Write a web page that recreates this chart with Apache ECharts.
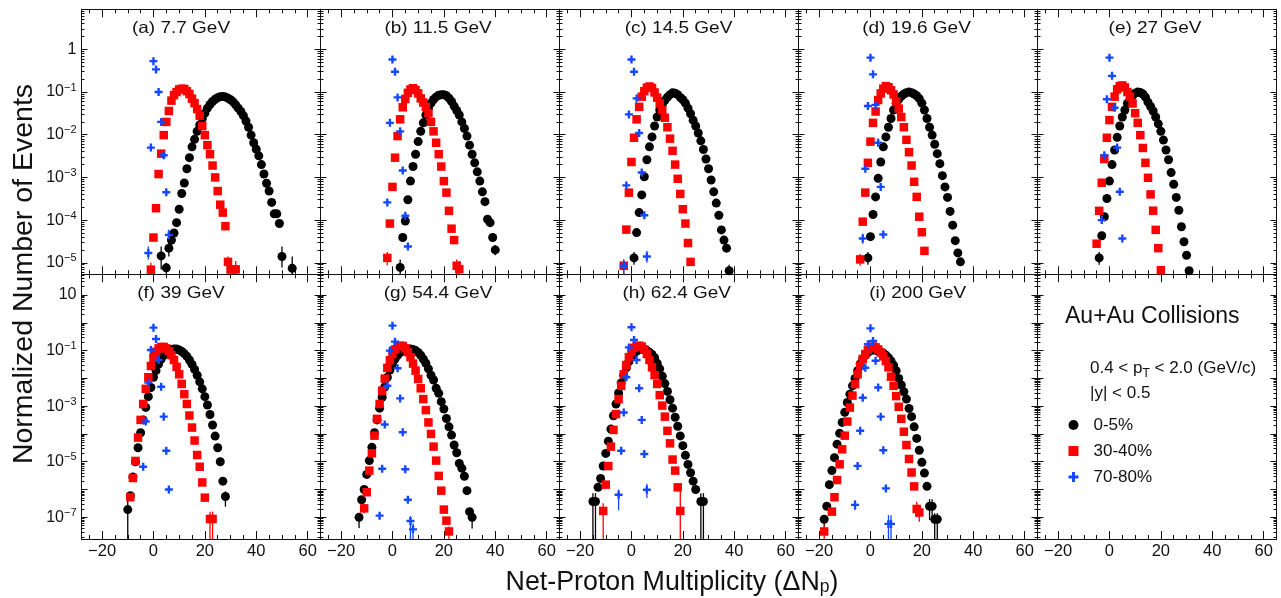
<!DOCTYPE html>
<html><head><meta charset="utf-8">
<script src="https://cdn.jsdelivr.net/npm/echarts@6/dist/echarts.min.js"></script>
<style>html,body{margin:0;padding:0;background:#fff}#c{width:1281px;height:598px}</style>
</head><body><div id="c"></div><script>
// ---------------- DATA ----------------
const panelLabels = ['(a) 7.7 GeV','(b) 11.5 GeV','(c) 14.5 GeV','(d) 19.6 GeV','(e) 27 GeV',
                     '(f) 39 GeV','(g) 54.4 GeV','(h) 62.4 GeV','(i) 200 GeV'];
const centralities = ['0-5%','30-40%','70-80%'];
const xTickValues = [-20, 0, 20, 40, 60];

// (a) 7.7 GeV
const a05x0 = 3;
const a05 = [1.45e-5,null,7.6e-6,2.2e-5,3.4e-5,5.0e-5,8.7e-5,1.8e-4,4.2e-4,7.4e-4,1.6e-3,2.9e-3,5.2e-3,7.8e-3,1.2e-2,1.7e-2,2.4e-2,3.2e-2,4.2e-2,5.1e-2,6.0e-2,6.8e-2,7.4e-2,7.8e-2,7.9e-2,7.7e-2,7.2e-2,6.6e-2,5.9e-2,5.0e-2,4.2e-2,3.5e-2,2.8e-2,2.1e-2,1.5e-2,9.8e-3,6.5e-3,4.6e-3,3.2e-3,2.0e-3,1.2e-3,7.3e-4,4.8e-4,2.6e-4,1.4e-4,1.4e-4,8.3e-5,1.4e-5,null,null,null,7.4e-6];
const a30x0 = -1;
const a30 = [6.9e-6,3.9e-5,1.9e-4,1.2e-3,3.6e-3,9.8e-3,2.0e-2,3.6e-2,6.3e-2,8.5e-2,0.10,0.115,0.12,0.118,0.105,0.09,0.07,0.055,0.04,0.028,0.016,9.8e-3,5.7e-3,3.5e-3,1.9e-3,1.0e-3,4.8e-4,2.3e-4,1.5e-4,7.2e-5,1.05e-5,7e-6,null,7e-6];
const a70x0 = -2;
const a70 = [1.7e-5,5.0e-3,0.53,0.34,0.10,0.02,3.3e-3,4.5e-4,4.5e-5];

// (b) 11.5 GeV
const b05x0 = 3;
const b05 = [7.8e-6,3.9e-5,9.5e-5,3.0e-4,8.2e-4,1.8e-3,3.5e-3,6.9e-3,0.012,0.019,0.029,0.042,0.055,0.067,0.077,0.084,0.087,0.087,0.082,0.072,0.06,0.047,0.037,0.029,0.020,0.014,9.3e-3,5.7e-3,3.5e-3,2.2e-3,1.35e-3,8.2e-4,4.6e-4,2.7e-4,1.05e-4,8.7e-5,3.9e-5,2.0e-5];
const b30x0 = -2;
const b30 = [1.3e-5,8.3e-5,6.0e-4,2.9e-3,9.3e-3,0.023,0.044,0.069,0.096,0.115,0.123,0.112,0.093,0.071,0.057,0.045,0.032,0.020,0.012,6.5e-3,3.5e-3,1.8e-3,8.2e-4,4.4e-4,1.65e-4,6.3e-5,3.4e-5,8.5e-6,7.1e-6];
const b70x0 = -2;
const b70 = [2.6e-4,0.019,0.58,0.30,0.075,0.012,1.45e-3,1.26e-4,2.4e-5];

// (c) 14.5 GeV
const c05x0 = 1;
const c05 = [1.3e-5,5.1e-5,1.5e-4,3.9e-4,1.04e-3,2.6e-3,5.2e-3,8.9e-3,0.016,0.026,0.038,0.052,0.064,0.076,0.087,0.096,0.094,0.087,0.075,0.066,0.055,0.042,0.031,0.022,0.016,0.011,7.2e-3,4.5e-3,2.7e-3,1.6e-3,8.7e-4,4.6e-4,2.5e-4,1.3e-4,5.9e-5,3.4e-5,2.2e-5,6.5e-6];
const c30x0 = -3;
const c30 = [8.5e-6,6.0e-5,4.4e-4,2.3e-3,8.5e-3,0.023,0.045,0.078,0.105,0.127,0.135,0.125,0.098,0.074,0.054,0.038,0.025,0.015,8.1e-3,4.2e-3,2.0e-3,9.3e-4,4.1e-4,1.8e-4,8.3e-5,2.9e-5,1.05e-5];
const c70x0 = -3;
const c70 = [8.5e-6,6.5e-4,0.030,0.58,0.30,0.071,0.011,1.3e-3,1.3e-4,1.4e-5];

// (d) 19.6 GeV
const d05x0 = -1;
const d05 = [1.3e-5,4.1e-5,1.35e-4,3.5e-4,9.5e-4,2.3e-3,5.2e-3,8.9e-3,0.015,0.024,0.038,0.055,0.068,0.08,0.09,0.097,0.10,0.097,0.09,0.082,0.07,0.055,0.038,0.024,0.015,9.8e-3,6.0e-3,3.6e-3,2.1e-3,1.1e-3,6.0e-4,3.4e-4,1.6e-4,7.6e-5,3.3e-5,1.7e-5,1.05e-5];
const d30x0 = -4;
const d30 = [1.2e-5,9.2e-5,4.4e-4,2.2e-3,6.9e-3,0.019,0.035,0.065,0.093,0.12,0.138,0.13,0.11,0.088,0.06,0.041,0.026,0.015,7.6e-3,3.9e-3,1.9e-3,7.9e-4,3.5e-4,1.2e-4,5.2e-5,1.9e-5];
const d70x0 = -3;
const d70 = [3.7e-5,1.6e-3,0.047,0.64,0.26,0.05,6.5e-3,6.0e-4,4.6e-5];

// (e) 27 GeV
const e05x0 = -4;
const e05 = [1.3e-5,4.3e-5,1.2e-4,3.2e-4,8.2e-4,2.0e-3,4.4e-3,8.7e-3,0.016,0.026,0.038,0.054,0.068,0.083,0.094,0.10,0.098,0.09,0.076,0.058,0.046,0.036,0.026,0.018,0.012,7.5e-3,4.4e-3,2.6e-3,1.3e-3,6.9e-4,3.4e-4,1.7e-4,7e-5,3.1e-5,1.5e-5,6.5e-6];
const e30x0 = -5;
const e30 = [2.8e-5,1.65e-4,7.5e-4,2.7e-3,8.5e-3,0.022,0.045,0.078,0.116,0.138,0.143,0.128,0.10,0.078,0.054,0.032,0.019,9.8e-3,4.9e-3,2.2e-3,9.8e-4,4.0e-4,1.66e-4,5.9e-5,2.2e-5,6.7e-6];
const e70x0 = -3;
const e70 = [1.0e-4,3.3e-3,0.068,0.64,0.24,0.043,5.0e-3,4.6e-4,3.7e-5];

// (f) 39 GeV
const f05x0 = -10;
const f05 = [1.9e-7,6e-7,2.8e-6,1.0e-5,3.2e-5,1.1e-4,3.2e-4,9e-4,2.2e-3,4.7e-3,0.011,0.019,0.033,0.050,0.068,0.085,0.10,0.11,0.115,0.113,0.105,0.093,0.078,0.062,0.046,0.032,0.021,0.013,7.5e-3,4.2e-3,2.2e-3,1.1e-3,5.0e-4,2.1e-4,8.4e-5,3.2e-5,1.0e-5,2.0e-6,5.6e-7];
const f30x0 = -9;
const f30 = [5.3e-7,2.6e-6,1.07e-5,7.4e-5,3.2e-4,1.2e-3,4.2e-3,0.011,0.028,0.055,0.09,0.12,0.135,0.135,0.12,0.095,0.068,0.046,0.026,0.014,6.3e-3,2.7e-3,1.2e-3,4.6e-4,1.7e-4,5.8e-5,1.75e-5,6.6e-6,1.8e-6,5.1e-7,null,8.7e-8,8.7e-8];
const f70x0 = -4;
const f70 = [6.6e-6,2.8e-4,7.1e-3,0.105,0.67,0.26,0.046,5.0e-3,4.2e-4,2.5e-5,1.0e-6];

// (g) 54.4 GeV
const g05x0 = -13;
const g05 = [1.0e-7,4.3e-7,1.0e-6,3.5e-6,1.1e-5,3.3e-5,1.1e-4,3.2e-4,8.5e-4,2.1e-3,4.9e-3,0.011,0.02,0.033,0.05,0.068,0.085,0.10,0.11,0.115,0.115,0.11,0.10,0.085,0.068,0.05,0.035,0.022,0.013,8.7e-3,4.4e-3,2.9e-3,1.45e-3,7.9e-4,3.6e-4,1.8e-4,9.1e-5,4.0e-5,2.1e-5,8.7e-6,5.8e-6,3.0e-6,9.1e-7,1.6e-7,1.0e-7];
const g30x0 = -11;
const g30 = [2.1e-7,8e-7,4.8e-6,2.0e-5,8.7e-5,3.5e-4,1.2e-3,3.6e-3,9.8e-3,0.024,0.045,0.075,0.11,0.14,0.15,0.145,0.12,0.088,0.058,0.034,0.019,9.5e-3,4.4e-3,1.8e-3,7.2e-4,2.6e-4,1.0e-4,3.5e-5,1.1e-5,3.1e-6,9.1e-7,1.9e-7,7.6e-8,3.1e-8];
const g70x0 = -5;
const g70 = [1.15e-7,5.6e-6,2.2e-4,5.4e-3,0.10,0.79,0.21,0.023,1.9e-3,1.15e-4,5.4e-6,4.3e-7,7.4e-8,3.7e-8];

// (h) 62.4 GeV
const h05x0 = -15;
const h05 = [3.7e-7,3.7e-7,1.2e-6,2.5e-6,7e-6,2.0e-5,5.5e-5,1.5e-4,4.5e-4,1.2e-3,3.0e-3,6.8e-3,0.013,0.024,0.04,0.06,0.08,0.097,0.108,0.112,0.11,0.10,0.088,0.073,0.055,0.035,0.022,0.012,6.5e-3,3.4e-3,1.7e-3,8.5e-4,4.0e-4,1.9e-4,8.5e-5,3.8e-5,1.7e-5,8e-6,4e-6,2.0e-6,1.0e-6,null,3.7e-7,3.7e-7];
const h30x0 = -11;
const h30 = [1.7e-7,1.5e-6,7e-6,3.5e-5,1.4e-4,5.2e-4,1.8e-3,5.4e-3,0.014,0.030,0.058,0.092,0.125,0.145,0.15,0.14,0.11,0.075,0.046,0.025,0.013,6.3e-3,2.5e-3,1.05e-3,4.2e-4,1.3e-4,4.6e-5,1.2e-5,4.8e-6,1.2e-6,1.7e-7];
const h70x0 = -5;
const h70 = [6.5e-7,2.5e-5,5.9e-4,0.011,0.13,0.69,0.24,0.046,4.4e-3,3.2e-4,1.9e-5,9.8e-7];

// (i) 200 GeV
const i05x0 = -18;
const i05 = [8.5e-8,2.5e-7,1.5e-6,4.8e-6,1.4e-5,4.3e-5,1.05e-4,2.6e-4,6.0e-4,1.35e-3,2.7e-3,5.4e-3,0.01,0.019,0.033,0.05,0.068,0.085,0.10,0.105,0.104,0.097,0.088,0.08,0.068,0.055,0.042,0.03,0.019,0.01,5.8e-3,3.3e-3,1.8e-3,8.3e-4,4.2e-4,1.8e-4,6.9e-5,2.6e-5,9.5e-6,3.9e-6,1.3e-6,2.5e-7,2.5e-7,8.5e-8,8.5e-8];
const i30x0 = -18;
const i30 = [3.1e-8,null,null,1.6e-7,5.3e-7,2.2e-6,8.1e-6,2.8e-5,8.7e-5,2.8e-4,8.9e-4,2.4e-3,6.2e-3,0.014,0.028,0.05,0.075,0.105,0.13,0.14,0.13,0.11,0.085,0.062,0.042,0.025,0.0115,5.4e-3,2.3e-3,9.5e-4,3.5e-4,1.2e-4,4.0e-5,1.26e-5,4.1e-6,1.3e-6,2.0e-7,1.5e-7];
const i70x0 = -6;
const i70 = [2.8e-7,7.1e-6,1.3e-4,2.0e-3,0.024,0.17,0.63,0.22,0.043,4.7e-3,4.2e-4,2.6e-5,1.1e-6,5.8e-8,5.8e-8];

// Error bars [x, low, high] (low below the frame = bar runs to the bottom edge)
const aE05 = [[3,7e-6,2.4e-5],[5,1e-9,1.0e-5],[6,1.4e-5,3.2e-5],[7,2.4e-5,4.6e-5],[50,7.8e-6,2.4e-5],[54,1e-9,1.4e-5]];
const aE30 = [[-1,5.4e-6,1.0e-5],[29,1e-9,1.4e-5],[30,1e-9,1.1e-5],[32,1e-9,1.1e-5]];
const aE70 = [[-2,1.2e-5,2.4e-5],[6,3.5e-5,6e-5]];
const bE05 = [[3,1e-9,1.2e-5],[40,1.5e-5,2.6e-5]];
const bE30 = [[-2,8.7e-6,1.8e-5],[25,1e-9,1.2e-5],[26,1e-9,1.1e-5]];
const bE70 = [];
const cE05 = [[1,9e-6,1.8e-5],[38,1e-9,9e-6]];
const cE30 = [[-3,1e-9,1.2e-5]];
const cE70 = [[-3,1e-9,1.2e-5],[6,1e-5,1.9e-5]];
const dE05 = [[-1,9e-6,1.8e-5]];
const dE30 = [[-4,8.5e-6,1.6e-5]];
const dE70 = [[-3,2.8e-5,4.8e-5]];
const eE05 = [[-4,9e-6,1.8e-5]];
const eE30 = [];
const eE70 = [];
const fE05 = [[-10,1e-10,6.5e-7],[28,2.4e-7,8.6e-7]];
const fE30 = [[-9,3.9e-7,7e-7],[22,1e-10,1.6e-7],[23,1e-10,1.6e-7]];
const fE70 = [[6,7.4e-7,1.3e-6]];
const gE05 = [[-13,4.1e-8,1.4e-7],[30,9e-8,2.1e-7],[31,4e-8,1.6e-7]];
const gE30 = [[22,1e-10,4.7e-8],[-11,1.4e-7,3e-7]];
const gE70 = [[7,1e-10,1.1e-7],[8,1e-10,6e-8]];
const hE05 = [[-15,1e-10,7.4e-7],[-14,1e-10,7.4e-7],[27,1e-10,7.4e-7],[28,1e-10,7.4e-7]];
const hE30 = [[-11,1e-10,3.2e-7],[19,1e-10,9e-7]];
const hE70 = [[-5,1.8e-7,1.0e-6],[6,5e-7,1.6e-6]];
const iE05 = [[-18,4.7e-8,1.2e-7],[23,8e-8,4.5e-7],[24,8e-8,4.5e-7],[25,1e-10,1.4e-7],[26,1e-10,1.4e-7]];
const iE30 = [[-18,1e-10,5e-8],[18,1e-7,3.6e-7],[19,7e-8,2.8e-7]];
const iE70 = [[7,1e-10,1.2e-7],[8,1e-10,1.2e-7],[-6,1.8e-7,4.2e-7]];

// ---------------- LAYOUT ----------------
const FONT = "'Liberation Sans', Arial, Helvetica, sans-serif";
const X_MIN = -28, X_MAX = 65;
const Y_RANGE = [[5.37e-6, 8.7], [1.66e-8, 55.6]];
const PANEL_LEFT = 81.5, PANEL_W = 239;
const PANEL_TOP = [9.3, 274.3], PANEL_H = [265, 264.7];
const LABEL_POS = [[181,28],[438,28],[678.5,28],[916.5,28],[1155,28],
                   [181,293.5],[438,293.5],[676.7,293.5],[917.7,293.5]];
const AX = '#111';
const CROSS = 'path://M2.8,0H5.2V2.8H8V5.2H5.2V8H2.8V5.2H0V2.8H2.8Z';

const seriesData = [
  [[a05x0,a05,aE05],[a30x0,a30,aE30],[a70x0,a70,aE70]],
  [[b05x0,b05,bE05],[b30x0,b30,bE30],[b70x0,b70,bE70]],
  [[c05x0,c05,cE05],[c30x0,c30,cE30],[c70x0,c70,cE70]],
  [[d05x0,d05,dE05],[d30x0,d30,dE30],[d70x0,d70,dE70]],
  [[e05x0,e05,eE05],[e30x0,e30,eE30],[e70x0,e70,eE70]],
  [[f05x0,f05,fE05],[f30x0,f30,fE30],[f70x0,f70,fE70]],
  [[g05x0,g05,gE05],[g30x0,g30,gE30],[g70x0,g70,gE70]],
  [[h05x0,h05,hE05],[h30x0,h30,hE30],[h70x0,h70,hE70]],
  [[i05x0,i05,iE05],[i30x0,i30,iE30],[i70x0,i70,iE70]]
];
const styles = [
  {symbol:'circle', symbolSize:9, color:'#000000', z:2},
  {symbol:'rect', symbolSize:8.5, color:'#ff0000', z:3},
  {symbol:CROSS, symbolSize:8, color:'#1448ff', z:4}
];

function pts(x0, arr){ const out=[]; arr.forEach((v,i)=>{ if(v!=null) out.push([x0+i, v]); }); return out; }

function logFmt(row){
  return function(v){
    const e = Math.log10(v), r = Math.round(e);
    if (Math.abs(e - r) > 1e-6) return '';
    if (row === 1 && r % 2 === 0) return '';
    if (r === 0) return '{b|1}';
    if (r === 1) return '{b|10}';
    return '{b|10}{s|' + (r < 0 ? '\u2212' + (-r) : r) + '}';
  };
}

function errRender(color){
  return function(params, api){
    const cs = params.coordSys;
    const p1 = api.coord([api.value(0), api.value(1)]);
    const p2 = api.coord([api.value(0), api.value(2)]);
    const yb = cs.y + cs.height, yt = cs.y;
    const clamp = y => Math.max(yt, Math.min(yb, y));
    return {type:'line', shape:{x1:p1[0], y1:clamp(p1[1]), x2:p2[0], y2:clamp(p2[1])},
            style:{stroke:color, lineWidth:1.3}};
  };
}

const grids=[], xAxes=[], yAxes=[], series=[];
for (let i=0;i<10;i++){
  const row = i<5?0:1, col = i%5;
  grids.push({left: PANEL_LEFT + PANEL_W*col, top: PANEL_TOP[row], width: PANEL_W, height: PANEL_H[row]});
  ['bottom','top'].forEach(pos=>{
    xAxes.push({type:'value', gridIndex:i, position:pos, min:X_MIN, max:X_MAX, splitNumber:5,
      axisLine:{show:true, onZero:false, lineStyle:{color:AX, width:1}},
      axisTick:{show:true, inside:true, length:8, lineStyle:{color:AX}},
      minorTick:{show:true, splitNumber:4, length:4, lineStyle:{color:AX}},
      splitLine:{show:false},
      axisLabel:{show: pos==='bottom' && row===1, margin:4, fontSize:16.5, color:'#111', fontFamily:FONT,
        formatter: v => xTickValues.indexOf(v) >= 0 ? String(v).replace('-', '\u2212') : ''}
    });
  });
  ['left','right'].forEach(pos=>{
    yAxes.push({type:'log', logBase:10, gridIndex:i, position:pos,
      min:Y_RANGE[row][0], max:Y_RANGE[row][1], splitNumber: row? 10:6,
      axisLine:{show:true, onZero:false, lineStyle:{color:AX, width:1}},
      axisTick:{show:true, inside:true, length:6, lineStyle:{color:AX}},
      minorTick:{show:true, splitNumber:9, length:3, lineStyle:{color:AX}},
      splitLine:{show:false},
      axisLabel:{show: pos==='left' && col===0, margin:5, color:'#111', fontFamily:FONT,
        formatter: logFmt(row),
        rich:{ b:{fontSize:16, fontFamily:FONT, color:'#111', lineHeight:20},
               s:{fontSize:11, fontFamily:FONT, color:'#111', lineHeight:11, verticalAlign:'top'} }}
    });
  });
  if (i < 9) {
    seriesData[i].forEach((sd, k)=>{
      const st = styles[k];
      if (sd[2].length) {
        series.push({type:'custom', xAxisIndex: 2*i, yAxisIndex: 2*i, data: sd[2],
          renderItem: errRender(st.color), z: st.z, silent:true, animation:false});
      }
      series.push({type:'scatter', name: centralities[k], xAxisIndex: 2*i, yAxisIndex: 2*i,
        data: pts(sd[0], sd[1]), symbol: st.symbol, symbolSize: st.symbolSize,
        itemStyle:{color: st.color, opacity:1}, z: st.z, silent:true, animation:false});
    });
  }
}

const graphics = [];
panelLabels.forEach((t,i)=>{
  graphics.push({type:'text', x:LABEL_POS[i][0], y:LABEL_POS[i][1], scaleX:1.15, silent:true, z:10,
    style:{text:t, fontSize:16.5, fontFamily:FONT, fill:'#111', align:'center', verticalAlign:'middle'}});
});
graphics.push({type:'text', x:24, y:274, rotation:Math.PI/2, silent:true,
  style:{text:'Normalized Number of Events', fontSize:28.5, fontFamily:FONT, fill:'#111', align:'center', verticalAlign:'middle'}});
graphics.push({type:'text', x:672, y:583, silent:true,
  style:{text:'Net-Proton Multiplicity (\u0394N{s|p})', fontSize:26.8, fontFamily:FONT, fill:'#111', align:'center', verticalAlign:'middle',
    rich:{s:{fontSize:17.5, fontFamily:FONT, fill:'#111', lineHeight:20, verticalAlign:'bottom'}}}});
graphics.push({type:'text', x:1065, y:317, silent:true,
  style:{text:'Au+Au Collisions', fontSize:23, fontFamily:FONT, fill:'#111', align:'left', verticalAlign:'middle'}});
graphics.push({type:'text', x:1090, y:368, silent:true,
  style:{text:'0.4 < p{s|T} < 2.0 (GeV/c)', fontSize:17, fontFamily:FONT, fill:'#111', align:'left', verticalAlign:'middle', lineHeight:24,
    rich:{s:{fontSize:12, fontFamily:FONT, fill:'#111', lineHeight:12, verticalAlign:'bottom'}}}});
graphics.push({type:'text', x:1090, y:393.5, silent:true,
  style:{text:'|y| < 0.5', fontSize:17, fontFamily:FONT, fill:'#111', align:'left', verticalAlign:'middle'}});

const chart = echarts.init(document.getElementById('c'), null, {renderer:'canvas'});
chart.setOption({
  backgroundColor:'#ffffff',
  animation:false,
  grid: grids, xAxis: xAxes, yAxis: yAxes, series: series,
  legend:{ orient:'vertical', left:1063.5, top:411.5, itemWidth:10, itemHeight:10, itemGap:9, selectedMode:false,
    textStyle:{fontSize:17, fontFamily:FONT, color:'#111', padding:[0,0,0,10]},
    data:[{name:'0-5%', icon:'circle'},{name:'30-40%', icon:'rect'},{name:'70-80%', icon:CROSS}] },
  graphic: graphics
});
</script></body></html>
